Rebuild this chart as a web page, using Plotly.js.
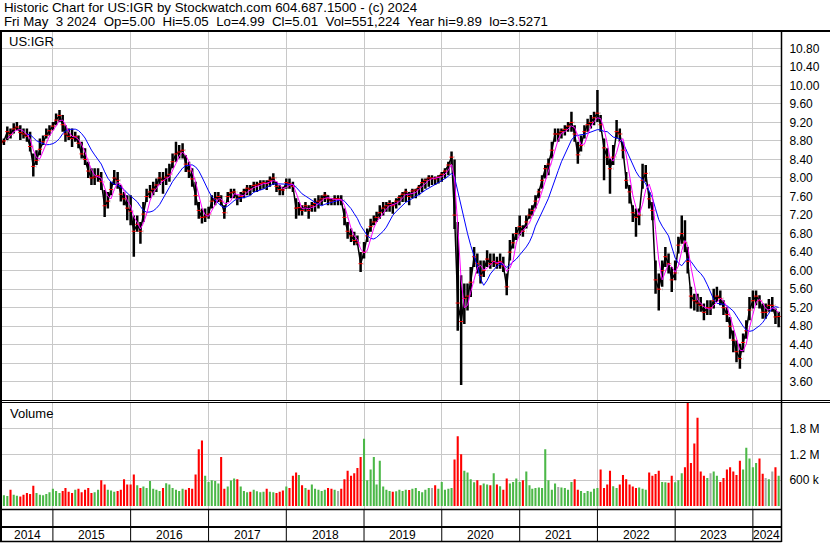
<!DOCTYPE html>
<html><head><meta charset="utf-8">
<script src="https://cdn.plot.ly/plotly-3.0.1.min.js"></script>
<style>html,body{margin:0;padding:0;background:#fff;}#chart{width:830px;height:543px;}</style>
</head><body><div id="chart"></div>
<script>
// Semi-monthly periods (1st and 16th of each month) starting May 1 2014
const startYear = 2014, startMonth = 5;
const hi = [
8.82,8.85,9.11,9.07,9.18,9.21,9.14,9.07,9.07,9.00,8.53,8.60,8.85,8.92,9.07,9.14,
9.21,9.39,9.47,9.36,9.14,9.07,9.07,9.00,8.92,8.78,8.64,8.35,8.21,8.21,8.21,8.13,7.74,7.70,7.92,8.17,8.13,7.85,7.70,7.63,
7.63,7.19,7.19,7.05,7.48,7.77,7.85,7.92,7.99,8.13,8.13,8.21,8.31,8.53,8.78,8.71,8.75,8.49,8.35,8.21,7.92,7.48,7.34,7.34,
7.38,7.63,7.70,7.70,7.63,7.41,7.70,7.77,7.77,7.63,7.70,7.77,7.85,7.85,7.92,7.92,7.95,7.95,7.95,8.03,8.10,7.92,7.85,7.81,
7.99,7.99,7.92,7.56,7.48,7.41,7.48,7.41,7.48,7.56,7.63,7.63,7.70,7.63,7.56,7.63,7.63,7.63,7.34,7.05,6.91,6.84,6.76,6.40,
6.62,6.91,7.12,7.19,7.27,7.41,7.48,7.48,7.52,7.48,7.56,7.63,7.70,7.77,7.70,7.77,7.77,7.85,7.99,7.99,8.06,8.06,8.03,8.06,
8.13,8.21,8.35,8.57,8.40,7.05,5.90,5.72,5.72,6.08,6.51,6.37,6.22,6.22,6.44,6.37,6.37,6.30,6.37,6.30,5.94,6.66,6.80,6.94,
7.19,6.98,7.19,7.34,7.41,7.63,7.77,8.06,8.28,8.42,8.78,9.07,9.07,9.07,9.14,9.21,9.43,9.14,8.78,8.92,9.14,9.28,9.36,9.43,
9.90,9.36,8.85,8.64,8.42,8.71,9.25,9.07,8.78,8.13,7.85,7.41,7.34,7.34,8.31,8.28,7.70,7.48,6.22,5.94,6.22,6.51,6.37,6.08,
6.22,6.73,7.19,7.09,6.51,5.65,5.50,5.50,5.43,5.29,5.36,5.36,5.61,5.65,5.57,5.36,5.21,5.00,4.71,4.49,4.42,4.64,4.93,5.43,
5.57,5.57,5.47,5.29,5.29,5.39,5.43,5.18,5.11];
const lo = [
8.71,8.71,8.82,8.85,8.96,9.03,8.82,8.85,8.78,8.57,8.03,8.28,8.49,8.71,8.85,8.92,
9.03,9.14,9.21,9.00,8.78,8.82,8.67,8.78,8.64,8.42,8.28,8.00,7.85,7.85,7.92,7.74,7.16,7.34,7.63,7.85,7.77,7.49,7.41,7.09,
6.98,6.30,6.84,6.58,7.05,7.48,7.56,7.63,7.70,7.85,7.66,7.85,7.92,8.21,8.35,8.42,8.42,8.13,8.00,7.81,7.41,7.12,7.02,7.05,
7.12,7.34,7.41,7.48,7.41,7.12,7.48,7.56,7.56,7.41,7.48,7.56,7.63,7.63,7.70,7.70,7.74,7.77,7.74,7.81,7.85,7.70,7.63,7.63,
7.77,7.77,7.70,7.12,7.19,7.19,7.27,7.12,7.27,7.27,7.34,7.41,7.48,7.41,7.41,7.41,7.41,7.41,6.98,6.69,6.62,6.55,6.55,5.97,
6.26,6.62,6.84,6.98,7.05,7.12,7.19,7.27,7.27,7.23,7.34,7.41,7.48,7.48,7.41,7.56,7.56,7.63,7.70,7.77,7.81,7.85,7.85,7.88,
7.92,7.99,8.06,8.28,6.90,4.70,3.53,4.85,5.14,5.43,6.08,5.94,5.72,5.86,6.08,6.04,6.08,6.04,6.04,5.97,5.47,6.22,6.48,6.66,
6.76,6.73,6.91,7.12,7.19,7.34,7.56,7.77,7.99,8.06,8.42,8.78,8.78,8.85,8.92,9.00,9.00,8.78,8.31,8.57,8.85,9.00,9.07,9.14,
9.21,9.00,7.95,8.28,7.66,8.28,8.85,8.78,8.42,7.77,7.45,7.05,6.73,6.98,7.77,7.92,7.34,7.09,5.50,5.14,5.65,6.08,5.94,5.54,
5.79,6.37,6.58,6.40,5.94,5.18,5.14,5.11,5.11,4.93,5.04,5.04,5.18,5.32,5.25,5.04,4.89,4.53,4.24,4.02,3.88,4.24,4.53,4.93,
5.18,5.25,5.18,4.96,4.96,5.11,5.11,4.85,4.78];
const cl = [
8.76,8.80,9.00,8.94,9.06,9.10,8.98,8.95,8.90,8.68,8.25,8.38,8.62,8.78,8.92,9.02,
9.12,9.25,9.35,9.15,8.95,8.90,8.85,8.90,8.75,8.52,8.40,8.15,8.00,8.02,8.05,7.92,7.40,7.50,7.75,8.00,7.95,7.65,7.55,7.35,
7.28,6.85,7.00,6.85,7.22,7.60,7.70,7.76,7.85,8.00,7.95,8.02,8.08,8.35,8.52,8.56,8.60,8.30,8.15,7.98,7.62,7.30,7.15,7.16,
7.22,7.50,7.55,7.60,7.50,7.25,7.60,7.68,7.70,7.55,7.60,7.70,7.78,7.76,7.84,7.85,7.88,7.90,7.88,7.95,8.00,7.82,7.75,7.74,
7.90,7.88,7.82,7.35,7.36,7.30,7.40,7.30,7.40,7.45,7.50,7.55,7.63,7.55,7.50,7.55,7.55,7.52,7.15,6.85,6.75,6.65,6.60,6.15,
6.40,6.75,6.95,7.05,7.15,7.25,7.35,7.40,7.45,7.40,7.50,7.58,7.65,7.70,7.60,7.72,7.74,7.80,7.90,7.95,8.00,8.00,7.98,8.02,
8.08,8.15,8.28,8.45,7.20,5.30,4.90,5.40,5.45,5.75,6.30,6.15,5.90,6.00,6.25,6.15,6.20,6.15,6.20,6.10,5.65,6.40,6.60,6.80,
6.95,6.85,7.05,7.20,7.30,7.50,7.70,7.95,8.20,8.30,8.60,8.95,8.95,9.00,9.05,9.12,9.20,8.95,8.50,8.70,9.00,9.15,9.20,9.30,
9.40,9.15,8.65,8.45,8.20,8.45,9.00,8.95,8.60,7.95,7.70,7.25,7.15,7.20,7.95,8.10,7.55,7.30,5.80,5.60,6.00,6.30,6.15,5.80,
5.95,6.55,6.80,6.60,6.20,5.45,5.35,5.30,5.25,5.10,5.20,5.20,5.35,5.45,5.40,5.20,5.05,4.80,4.50,4.25,4.10,4.45,4.70,5.15,
5.35,5.45,5.35,5.10,5.10,5.25,5.25,5.00,5.01];
// volume in thousands of shares
const volK = [
220,250,230,380,260,240,220,260,300,280,470,300,260,250,280,320,
400,350,300,350,420,330,300,380,400,320,380,420,300,320,380,600,500,380,360,330,350,380,620,500,
500,730,480,420,450,420,580,400,380,350,420,530,500,420,380,350,400,380,420,400,730,1320,1520,700,
560,600,580,520,1140,400,450,590,640,620,450,350,320,330,380,340,320,330,400,330,320,300,330,360,
450,420,700,780,720,480,420,380,500,400,380,350,380,420,400,380,350,400,620,820,700,760,880,1140,
1560,600,850,1140,500,1050,450,380,350,330,340,380,350,380,370,400,420,350,320,380,420,420,480,400,
560,380,400,420,1080,1620,1200,820,780,620,550,600,480,520,500,480,760,500,460,380,640,520,560,640,
560,600,800,480,400,420,430,420,1320,600,380,520,440,430,420,380,560,620,380,350,300,350,330,400,
420,850,420,500,820,460,420,500,720,620,500,450,420,430,400,380,780,700,740,820,560,550,540,700,
550,600,760,900,2400,1000,1450,2050,800,700,650,760,800,700,560,650,850,900,800,720,1050,850,1350,1100,
900,1000,1100,750,650,620,800,900,700];
const yearLabels = ['2014','2015','2016','2017','2018','2019','2020','2021','2022','2023','2024'];
const priceTicks = [3.6,4.0,4.4,4.8,5.2,5.6,6.0,6.4,6.8,7.2,7.6,8.0,8.4,8.8,9.2,9.6,10.0,10.4,10.8];
const volTicks = [600000,1200000,1800000];
const volTickText = ['600 k','1.2 M','1.8 M'];
const header1 = 'Historic Chart for US:IGR by Stockwatch.com 604.687.1500 - (c) 2024';
const header2 = 'Fri May  3 2024  Op=5.00  Hi=5.05  Lo=4.99  Cl=5.01  Vol=551,224  Year hi=9.89  lo=3.5271';
const symbolLabel = 'US:IGR';
const volumeLabel = 'Volume';
const xStart = '2014-05-07', xEnd = '2024-05-12';
const maShort = 3, maLong = 9;

// ---- build ----
const n = cl.length;
const pad = v => (v < 10 ? '0' : '') + v;
const dates = [];
for (let i = 0; i < n; i++) {
  const m = startMonth - 1 + Math.floor(i / 2);
  const y = startYear + Math.floor(m / 12);
  dates.push(y + '-' + pad(m % 12 + 1) + '-' + (i % 2 ? '16' : '01'));
}
const op = cl.map((c, i) => i === 0 ? c : cl[i - 1]);
function sma(arr, w) {
  return arr.map((v, i) => {
    if (i < w - 1) return null;
    let s = 0; for (let k = i - w + 1; k <= i; k++) s += arr[k];
    return s / w;
  });
}
const vol = volK.map(v => v * 1000);
const volColors = cl.map((c, i) => {
  const p = i === 0 ? op[0] : cl[i - 1];
  return c > p ? '#4cb848' : (c < p ? '#ff0000' : '#a8a8a8');
});

const W = 830, H = 543, L = 2, R = 781, T = 32, B = 509;
const px = x => (x - L) / (R - L);
const py = y => (B - y) / (B - T);
const font = 'Liberation Sans, Arial, sans-serif';

const traces = [
  {type: 'scatter', mode: 'lines', x: dates, y: cl, xaxis: 'x', yaxis: 'y',
   line: {color: '#000', width: 1.5}, hoverinfo: 'skip', showlegend: false},
  {type: 'ohlc', x: dates, open: op, high: hi, low: lo, close: cl, xaxis: 'x', yaxis: 'y',
   increasing: {line: {color: '#000', width: 2.5}}, decreasing: {line: {color: '#000', width: 2.5}},
   tickwidth: 0.05, hoverinfo: 'skip', showlegend: false},
  {type: 'scatter', mode: 'markers', x: dates, y: cl, xaxis: 'x', yaxis: 'y',
   marker: {symbol: 'line-ew', size: 3, line: {color: '#ff0000', width: 1}}, hoverinfo: 'skip', showlegend: false},
  {type: 'scatter', mode: 'lines', x: dates, y: sma(cl, maLong), xaxis: 'x', yaxis: 'y',
   line: {color: '#0000ff', width: 1}, hoverinfo: 'skip', showlegend: false},
  {type: 'scatter', mode: 'lines', x: dates, y: sma(cl, maShort), xaxis: 'x', yaxis: 'y',
   line: {color: '#ff00ff', width: 1}, hoverinfo: 'skip', showlegend: false},
  {type: 'bar', x: dates, y: vol, xaxis: 'x', yaxis: 'y2', marker: {color: volColors, line: {width: 0}},
   hoverinfo: 'skip', showlegend: false}
];

const yearBounds = [];
for (let y = 2015; y <= 2024; y++) yearBounds.push(y + '-01-01');

const shapes = [];
function line(x0, y0, x1, y1, w, xref) {
  shapes.push({type: 'line', xref: xref || 'paper', yref: 'paper', x0, y0, x1, y1, line: {color: '#000', width: w}, layer: 'above'});
}
line(px(0), py(31), px(830), py(31), 2);          // top border
line(px(1), py(30), px(1), py(542), 2);           // left border
line(px(781.5), py(30), px(781.5), py(542), 1.5); // right border
line(px(0), py(400.5), px(830), py(400.5), 1);    // price bottom (double)
line(px(0), py(402.5), px(830), py(402.5), 1);
line(px(0), py(509.5), px(781.5), py(509.5), 1.5);
line(px(0), py(527), px(781.5), py(527), 2);
line(px(0), py(541.5), px(781.5), py(541.5), 1.5);
yearBounds.forEach(d => line(d, py(509.5), d, py(541.5), 1, 'x'));

const t0 = new Date(xStart).getTime(), t1 = new Date(xEnd).getTime();
const annotations = [
  {text: header1, xref: 'paper', yref: 'paper', x: px(2), y: py(7), xanchor: 'left', yanchor: 'middle', showarrow: false, font: {family: font, size: 13.3, color: '#000'}},
  {text: header2.replace(/ /g, '\u00a0'), xref: 'paper', yref: 'paper', x: px(2), y: py(21.5), xanchor: 'left', yanchor: 'middle', showarrow: false, font: {family: font, size: 13.3, color: '#000'}},
  {text: symbolLabel, xref: 'paper', yref: 'paper', x: px(7), y: py(41.5), xanchor: 'left', yanchor: 'middle', showarrow: false, font: {family: font, size: 13, color: '#000'}},
  {text: volumeLabel, xref: 'paper', yref: 'paper', x: px(8), y: py(413), xanchor: 'left', yanchor: 'middle', showarrow: false, font: {family: font, size: 13, color: '#000'}}
];
yearLabels.forEach(lbl => {
  const y = +lbl;
  const a = Math.max(t0, new Date(y + '-01-01').getTime());
  const b = Math.min(t1, new Date((y + 1) + '-01-01').getTime());
  annotations.push({text: lbl, xref: 'x', yref: 'paper', x: new Date((a + b) / 2).toISOString().slice(0, 10),
    y: py(534.5), xanchor: 'center', yanchor: 'middle', showarrow: false, font: {family: font, size: 12, color: '#000'}});
});

const layout = {
  width: W, height: H, margin: {l: L, r: W - R, t: T, b: H - B, pad: 0},
  paper_bgcolor: '#fff', plot_bgcolor: '#fff', showlegend: false, bargap: 0.25,
  font: {family: font, size: 12, color: '#000'},
  xaxis: {type: 'date', range: [xStart, xEnd], anchor: 'y2', tickvals: yearBounds, showticklabels: false, ticks: '',
          showgrid: true, gridcolor: '#c8c8c8', gridwidth: 1, zeroline: false, showline: false, rangeslider: {visible: false}, fixedrange: true},
  yaxis: {domain: [py(400.5), 1], range: [3.196, 11.152], side: 'right', anchor: 'x', tickvals: priceTicks,
          ticktext: priceTicks.map(v => v.toFixed(2)), ticks: 'outside', ticklen: 5, tickcolor: 'rgba(0,0,0,0)',
          showgrid: true, gridcolor: '#c8c8c8', gridwidth: 1, zeroline: false, showline: false,
          tickfont: {family: font, size: 12, color: '#000'}},
  yaxis2: {domain: [0, py(402.5)], range: [-69600, 2402400], side: 'right', anchor: 'x', tickvals: volTicks,
           ticktext: volTickText, ticks: 'outside', ticklen: 5, tickcolor: 'rgba(0,0,0,0)',
           showgrid: true, gridcolor: '#c8c8c8', gridwidth: 1, zeroline: false, showline: false,
           tickfont: {family: font, size: 12, color: '#000'}},
  shapes, annotations
};
Plotly.newPlot('chart', traces, layout, {displayModeBar: false, staticPlot: true});
</script></body></html>
